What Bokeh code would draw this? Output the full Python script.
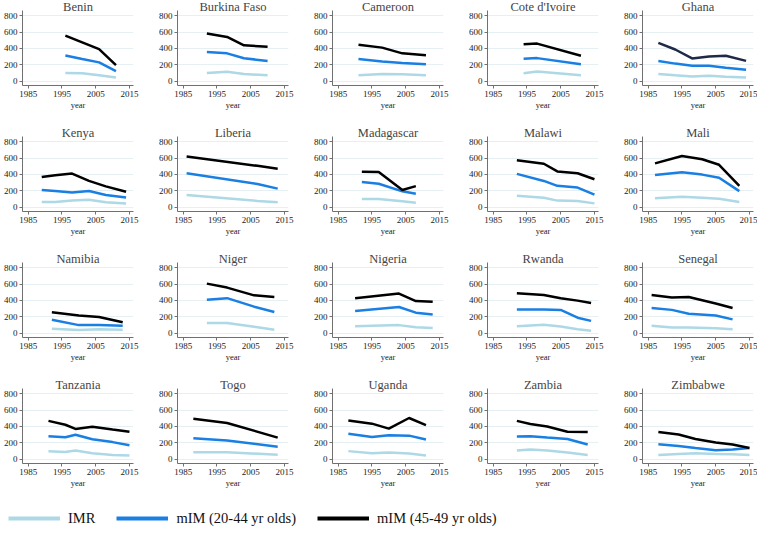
from bokeh.plotting import figure
from bokeh.layouts import gridplot, column
from bokeh.models import Range1d, FixedTicker, Legend, LegendItem
from bokeh.embed import file_html
from bokeh.resources import INLINE

countries = ["Benin", "Burkina Faso", "Cameroon", "Cote d'Ivoire", "Ghana",
             "Kenya", "Liberia", "Madagascar", "Malawi", "Mali",
             "Namibia", "Niger", "Nigeria", "Rwanda", "Senegal",
             "Tanzania", "Togo", "Uganda", "Zambia", "Zimbabwe"]

years = [
    [1996, 2001, 2006, 2011],
    [1992, 1998, 2003, 2010],
    [1991, 1998, 2004, 2011],
    [1994, 1998, 2011],
    [1988, 1993, 1998, 2003, 2008, 2014],
    [1989, 1993, 1998, 2003, 2008, 2014],
    [1986, 2007, 2013],
    [1992, 1997, 2004, 2008],
    [1992, 2000, 2004, 2010, 2015],
    [1987, 1995, 2001, 2006, 2012],
    [1992, 2000, 2006, 2013],
    [1992, 1998, 2006, 2012],
    [1990, 2003, 2008, 2013],
    [1992, 2000, 2005, 2010, 2014],
    [1986, 1992, 1997, 2005, 2010],
    [1991, 1996, 1999, 2004, 2010, 2015],
    [1988, 1998, 2013],
    [1988, 1995, 2000, 2006, 2011],
    [1992, 1996, 2001, 2007, 2013],
    [1988, 1994, 1999, 2005, 2010, 2015],
]

imr = [
    [102, 97, 72, 47],
    [102, 115, 89, 72],
    [72, 88, 84, 72],
    [97, 118, 72],
    [88, 72, 59, 67, 55, 46],
    [64, 64, 81, 90, 60, 47],
    [150, 77, 60],
    [101, 101, 72, 55],
    [141, 116, 81, 77, 47],
    [111, 128, 116, 103, 64],
    [56, 39, 48, 43],
    [125, 125, 78, 43],
    [86, 99, 73, 65],
    [86, 104, 82, 48, 30],
    [91, 69, 69, 61, 48],
    [98, 89, 106, 72, 51, 47],
    [85, 85, 55],
    [99, 73, 82, 69, 47],
    [106, 119, 106, 81, 51],
    [51, 64, 72, 64, 60, 51],
]

mim_20_44 = [
    [315, 272, 230, 123],
    [357, 340, 281, 247],
    [270, 240, 223, 206],
    [274, 282, 206],
    [248, 215, 190, 190, 164, 139],
    [210, 197, 180, 197, 150, 120],
    [415, 283, 227],
    [307, 286, 194, 164],
    [407, 321, 261, 240, 154],
    [394, 428, 398, 360, 197],
    [164, 99, 99, 91],
    [410, 428, 324, 259],
    [272, 320, 251, 229],
    [290, 290, 285, 190, 151],
    [307, 285, 238, 216, 169],
    [281, 268, 298, 243, 209, 170],
    [255, 230, 153],
    [310, 271, 292, 288, 241],
    [277, 281, 264, 247, 179],
    [183, 162, 136, 111, 119, 136],
]

mim_45_49 = [
    [557, 474, 391, 196],
    [583, 540, 438, 421],
    [446, 410, 340, 316],
    [450, 459, 311],
    [467, 387, 278, 303, 311, 248],
    [368, 390, 411, 321, 255, 188],
    [620, 505, 470],
    [434, 430, 210, 257],
    [574, 531, 437, 415, 342],
    [535, 625, 586, 518, 261],
    [255, 216, 199, 134],
    [605, 557, 462, 441],
    [428, 484, 393, 385],
    [489, 467, 428, 398, 368],
    [467, 437, 441, 363, 307],
    [468, 421, 370, 396, 362, 336],
    [494, 443, 264],
    [473, 434, 374, 503, 417],
    [468, 430, 400, 336, 332],
    [332, 302, 247, 204, 179, 136],
]

series_labels = ["IMR", "mIM (20-44 yr olds)", "mIM (45-49 yr olds)"]
x_ticks = [1985, 1995, 2005, 2015]
y_ticks = [0, 200, 400, 600, 800]

FONT = "Liberation Serif"
C_IMR = "#add8e6"
C_YOUNG = "#1a7fe3"
C_OLD = "#000000"
C_OLD_GHANA = "#1f2a48"
AXIS_C = "#707070"
NCOL = 5

rows = []
for i, name in enumerate(countries):
    last_col = (i % NCOL) == NCOL - 1
    w = 137 if last_col else 155
    p = figure(width=w, height=126, output_backend="svg", toolbar_location=None,
               x_range=Range1d(1983.3, 2016.2), y_range=Range1d(-52, 863),
               min_border_left=17, min_border_right=w - 17 - 116, min_border_top=0,
               min_border_bottom=41, title=name)
    p.title.text_font = FONT
    p.title.text_font_size = "12.5px"
    p.title.text_font_style = "normal"
    p.title.align = "center"
    p.title.standoff = -6
    p.title.offset = 0
    p.outline_line_color = None
    p.background_fill_color = "white"
    p.xgrid.grid_line_color = None
    p.ygrid.grid_line_color = "#e6eff1"
    p.ygrid.ticker = FixedTicker(ticks=y_ticks)

    for ax in (p.xaxis[0], p.yaxis[0]):
        ax.axis_line_color = AXIS_C
        ax.major_tick_line_color = AXIS_C
        ax.minor_tick_line_color = None
        ax.major_tick_out = 3
        ax.major_tick_in = 0
        ax.major_label_standoff = 2
        ax.major_label_text_font = FONT
        ax.major_label_text_font_size = "9px"
        ax.major_label_text_color = "#222222"
    p.xaxis.ticker = FixedTicker(ticks=x_ticks)
    p.yaxis.ticker = FixedTicker(ticks=y_ticks)
    p.xaxis.axis_label = "year"
    p.xaxis.axis_label_text_font = FONT
    p.xaxis.axis_label_text_font_size = "8.5px"
    p.xaxis.axis_label_text_font_style = "normal"
    p.xaxis.axis_label_text_color = "#222222"
    p.xaxis.axis_label_standoff = 0

    old_c = C_OLD_GHANA if name == "Ghana" else C_OLD
    p.line(years[i], imr[i], line_color=C_IMR, line_width=2.5)
    p.line(years[i], mim_20_44[i], line_color=C_YOUNG, line_width=2.5)
    p.line(years[i], mim_45_49[i], line_color=old_c, line_width=2.5)
    if i % NCOL == 0:
        rows.append([])
    rows[-1].append(p)

grid = gridplot(rows, toolbar_location=None)

# legend-only figure: proxy lines sit outside the visible range
leg = figure(width=757, height=29, output_backend="svg", toolbar_location=None,
             x_range=Range1d(0, 1), y_range=Range1d(0, 1),
             min_border=0)
leg.axis.visible = False
leg.grid.visible = False
leg.outline_line_color = None
proxy = [-5, -4]
r1 = leg.line(proxy, proxy, line_color=C_IMR, line_width=4)
r2 = leg.line(proxy, proxy, line_color=C_YOUNG, line_width=4)
r3 = leg.line(proxy, proxy, line_color=C_OLD, line_width=4)
legend = Legend(items=[LegendItem(label=series_labels[0], renderers=[r1]),
                       LegendItem(label=series_labels[1], renderers=[r2]),
                       LegendItem(label=series_labels[2], renderers=[r3])],
                orientation="horizontal", location=(8, 6),
                glyph_width=52, glyph_height=18, label_standoff=8, spacing=21,
                padding=0, margin=0, border_line_color=None,
                background_fill_alpha=0,
                label_text_font=FONT, label_text_font_size="14.5px",
                label_text_color="#111111")
leg.add_layout(legend, "center")

page = column(grid, leg)
open("out.html", "w").write(file_html(page, INLINE))
